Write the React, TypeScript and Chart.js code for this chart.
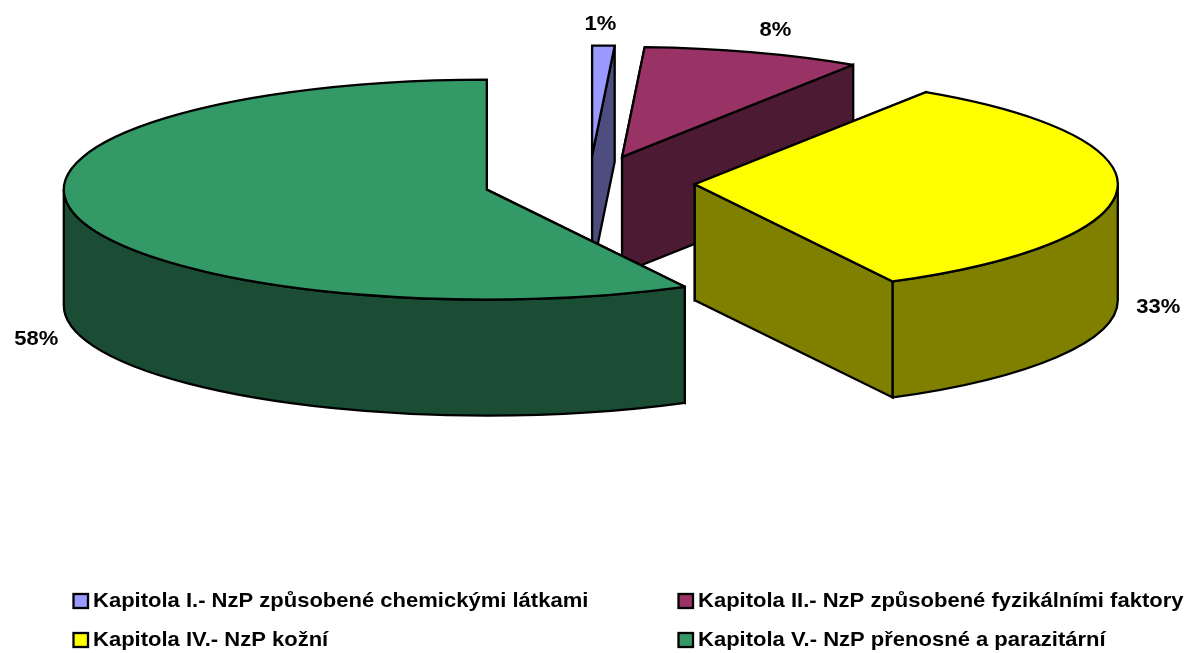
import React, { useEffect, useRef } from "react";
import { Chart, registerables } from "chart.js";

Chart.register(...registerables);

const categories = [
  "Kapitola I.- NzP způsobené chemickými látkami",
  "Kapitola II.- NzP způsobené fyzikálními faktory",
  "Kapitola IV.- NzP kožní",
  "Kapitola V.- NzP přenosné a parazitární",
];
const values = [0.85, 8.35, 33.05, 57.75];
const topColors = ["#9999ff", "#993366", "#ffff00", "#339966"];
const sideColors = ["#4d4d80", "#4d1a33", "#808000", "#1a4d33"];

// Projection of the flat pie onto the page
const CENTER_X = 589.3;
const CENTER_Y = 183;
const RADIUS = 423;
const TILT = 110 / 423;
const DEPTH = 116;
const EXPLODE = 105.6;

// Label offset from each slice's mid-rim point
const labelNudgeX = [-3, 22, 41, -40];
const labelNudgeY = [-21, -22, 118, 123];

// Legend layout
const legendColumns = [73, 678];
const legendRows = [601, 640];
const FONT = 'bold 21px "Liberation Sans", Arial, sans-serif';
const TEXT_STRETCH = 1.048;

const pie3d = {
  id: "pie3d",
  beforeDatasetsDraw(chart: any) {
    const ctx: CanvasRenderingContext2D = chart.ctx;
    const meta = chart.getDatasetMeta(0);
    const line = () => {
      ctx.lineWidth = 2.3;
      ctx.strokeStyle = "#000";
      ctx.lineJoin = "miter";
      ctx.miterLimit = 2.5;
      ctx.fill();
      ctx.stroke();
    };
    const text = (s: string, x: number, y: number) => {
      ctx.save();
      ctx.translate(x, y);
      ctx.scale(TEXT_STRETCH, 1);
      ctx.fillText(s, 0, 0);
      ctx.restore();
    };
    const pctTotal = values.reduce((a, b) => a + b, 0);

    meta.data.forEach((arc: any, i: number) => {
      const { startAngle, endAngle, outerRadius } = arc.getProps(
        ["startAngle", "endAngle", "outerRadius"],
        true,
      );
      const mid = (startAngle + endAngle) / 2;
      const cx = CENTER_X + Math.cos(mid) * arc.options.offset;
      const cy = CENTER_Y + Math.sin(mid) * arc.options.offset * TILT;
      const rx = outerRadius;
      const ry = outerRadius * TILT;
      const px = (a: number) => cx + Math.cos(a) * rx;
      const py = (a: number) => cy + Math.sin(a) * ry;

      ctx.save();
      ctx.fillStyle = sideColors[i];
      // radial walls
      [startAngle, endAngle].forEach((a: number) => {
        ctx.beginPath();
        ctx.moveTo(cx, cy);
        ctx.lineTo(px(a), py(a));
        ctx.lineTo(px(a), py(a) + DEPTH);
        ctx.lineTo(cx, cy + DEPTH);
        ctx.closePath();
        line();
      });
      // front part of the rim
      const a0 = Math.max(startAngle, 0);
      const a1 = Math.min(endAngle, Math.PI);
      if (a1 > a0) {
        ctx.beginPath();
        ctx.ellipse(cx, cy, rx, ry, 0, a0, a1);
        ctx.ellipse(cx, cy + DEPTH, rx, ry, 0, a1, a0, true);
        ctx.closePath();
        line();
      }
      // top face
      ctx.fillStyle = topColors[i];
      ctx.beginPath();
      ctx.moveTo(cx, cy);
      ctx.ellipse(cx, cy, rx, ry, 0, startAngle, endAngle);
      ctx.closePath();
      line();
      ctx.restore();
    });

    // percentage labels
    ctx.save();
    ctx.font = FONT;
    ctx.fillStyle = "#000";
    ctx.textAlign = "center";
    ctx.textBaseline = "middle";
    meta.data.forEach((arc: any, i: number) => {
      const { startAngle, endAngle, outerRadius } = arc.getProps(
        ["startAngle", "endAngle", "outerRadius"],
        true,
      );
      const mid = (startAngle + endAngle) / 2;
      const cx = CENTER_X + Math.cos(mid) * arc.options.offset;
      const cy = CENTER_Y + Math.sin(mid) * arc.options.offset * TILT;
      const lx = cx + Math.cos(mid) * outerRadius + labelNudgeX[i];
      const ly = cy + Math.sin(mid) * outerRadius * TILT + labelNudgeY[i];
      text(`${Math.round((values[i] / pctTotal) * 100)}%`, lx, ly);
    });

    // legend
    ctx.textAlign = "left";
    categories.forEach((label, i) => {
      const x = legendColumns[i % 2];
      const y = legendRows[Math.floor(i / 2)];
      ctx.fillStyle = topColors[i];
      ctx.strokeStyle = "#000";
      ctx.lineWidth = 2.3;
      ctx.fillRect(x + 0.5, y - 7, 14.5, 14);
      ctx.strokeRect(x + 0.5, y - 7, 14.5, 14);
      ctx.fillStyle = "#000";
      text(label, x + 20, y);
    });
    ctx.restore();
    return false;
  },
};

export default function App() {
  const ref = useRef<HTMLCanvasElement>(null);
  useEffect(() => {
    const chart = new Chart(ref.current!, {
      type: "pie",
      data: {
        labels: categories,
        datasets: [
          {
            data: values,
            backgroundColor: topColors,
            borderWidth: 0,
            offset: EXPLODE,
            radius: RADIUS,
          } as any,
        ],
      },
      options: {
        animation: false,
        responsive: false,
        plugins: { legend: { display: false }, tooltip: { enabled: false } },
      },
      plugins: [pie3d],
    });
    return () => chart.destroy();
  }, []);
  return (
    <canvas
      ref={ref}
      width={1185}
      height={653}
      style={{ position: "absolute", left: 0, top: 0, display: "block" }}
    />
  );
}
